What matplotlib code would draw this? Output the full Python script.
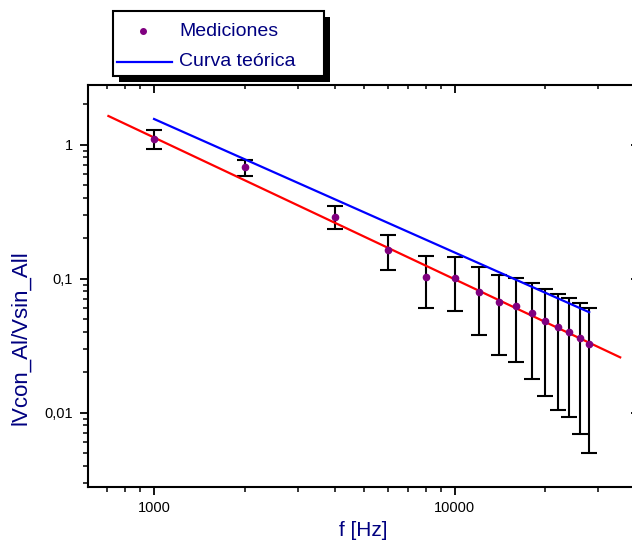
"""
plot.py
-------
|Vcon_Al / Vsin_Al| vs frequency (log-log), measured points with error bars,
a fitted power-law line (red) and the theoretical curve (blue).
"""

import matplotlib
matplotlib.use("Agg")
import matplotlib.pyplot as plt
from matplotlib.lines import Line2D
from matplotlib.patches import Rectangle
from matplotlib.ticker import FuncFormatter, NullFormatter

plt.rcParams["font.family"] = ["Liberation Sans", "DejaVu Sans"]

# ── Data ─────────────────────────────────────────────────────────────────────
freq  = [1000, 2000, 4000, 6000, 8000, 10000, 12000, 14000,
         16000, 18000, 20000, 22000, 24000, 26000, 28000]
ratio = [1.10, 0.676, 0.290, 0.163, 0.103, 0.101, 0.0796, 0.0670,
         0.0622, 0.0549, 0.0483, 0.0436, 0.0402, 0.0362, 0.0327]
err   = [0.18, 0.090, 0.056, 0.047, 0.043, 0.044, 0.0417, 0.040,
         0.0385, 0.037, 0.035, 0.0332, 0.031, 0.0293, 0.0277]

# fitted line (red) and theoretical curve (blue): straight on log-log
fit_f    = [705, 35500]
fit_v    = [1.632, 0.0258]
theory_f = [1000, 28000]
theory_v = [1.55, 0.056]

NAVY   = "#000080"
PURPLE = "#800080"

W, H = 632, 547


def px(x, y):
    """pixel position (from top-left) → figure fraction"""
    return x / W, 1 - y / H


fig = plt.figure(figsize=(W / 100, H / 100), dpi=100)
ax = fig.add_axes([88 / W, 60 / H, (639 - 88) / W, (487 - 85) / H])

ax.set_xscale("log")
ax.set_yscale("log")
ax.set_xlim(603, 41000)
ax.set_ylim(0.00278, 2.78)

# ── Marks ─────────────────────────────────────────────────────────────────────
ax.errorbar(freq, ratio, yerr=err, fmt="none", ecolor="black",
            elinewidth=1.5, capsize=5.8, capthick=1.5, zorder=2)
ax.plot(fit_f, fit_v, color="#ff0000", lw=1.6, zorder=3)
ax.plot(theory_f, theory_v, color="#0000ff", lw=1.6, zorder=3)
ax.plot(freq, ratio, "o", color=PURPLE, ms=4.5, zorder=4)

# ── Axes styling ──────────────────────────────────────────────────────────────
for spine in ax.spines.values():
    spine.set_linewidth(1.5)

ax.tick_params(which="major", direction="out", length=5.8, width=1.3,
               labelsize=10.5, top=False, right=False)
ax.tick_params(which="minor", direction="out", length=3.4, width=1.1,
               top=False, right=False)
ax.tick_params(axis="x", which="major", pad=4.5)
ax.tick_params(axis="y", which="major", pad=5)
ax.xaxis.set_major_formatter(FuncFormatter(lambda v, p: f"{v:.0f}"))
ax.yaxis.set_major_formatter(
    FuncFormatter(lambda v, p: (f"{v:g}").replace(".", ",")))
ax.xaxis.set_minor_formatter(NullFormatter())
ax.yaxis.set_minor_formatter(NullFormatter())

# top / right ticks point inward → overlay axes sharing the scales
ov = fig.add_axes(ax.get_position(), sharex=ax, sharey=ax, frameon=False)
ov.tick_params(which="both", direction="in", top=True, right=True,
               bottom=False, left=False, labelbottom=False, labelleft=False)
ov.tick_params(which="major", length=5.8, width=1.3)
ov.tick_params(which="minor", length=3.0, width=1.1)
ov.patch.set_visible(False)

fig.text(*px(363, 530), "f [Hz]", color=NAVY, fontsize=15,
         ha="center", va="center")
fig.text(*px(21, 338), "lVcon_Al/Vsin_All", color=NAVY, fontsize=16,
         rotation=90, ha="center", va="center")

# ── Legend box with hard shadow ───────────────────────────────────────────────
x0, y0, x1, y1 = 113, 11, 324, 76
sx, sy = px(x0 + 6, y1 + 6)
fig.patches.append(Rectangle((sx, sy), (x1 - x0) / W, (y1 - y0) / H,
                             transform=fig.transFigure, facecolor="black",
                             edgecolor="black", lw=0, zorder=5))
bx, by = px(x0, y1)
fig.patches.append(Rectangle((bx, by), (x1 - x0) / W, (y1 - y0) / H,
                             transform=fig.transFigure, facecolor="white",
                             edgecolor="black", lw=1.5, zorder=6))
mx, my = px(143, 31)
fig.lines.append(Line2D([mx], [my], marker="o", color=PURPLE, ms=4,
                        transform=fig.transFigure, zorder=7))
lx0, ly = px(117, 62)
lx1, _ = px(172, 62)
fig.lines.append(Line2D([lx0, lx1], [ly, ly], color="#0000ff", lw=1.6,
                        transform=fig.transFigure, zorder=7))
fig.text(*px(179, 32), "Mediciones", color=NAVY, fontsize=14,
         ha="left", va="center", zorder=8)
fig.text(*px(179, 62), "Curva teórica", color=NAVY, fontsize=14,
         ha="left", va="center", zorder=8)

fig.savefig("out.png", dpi=100)
